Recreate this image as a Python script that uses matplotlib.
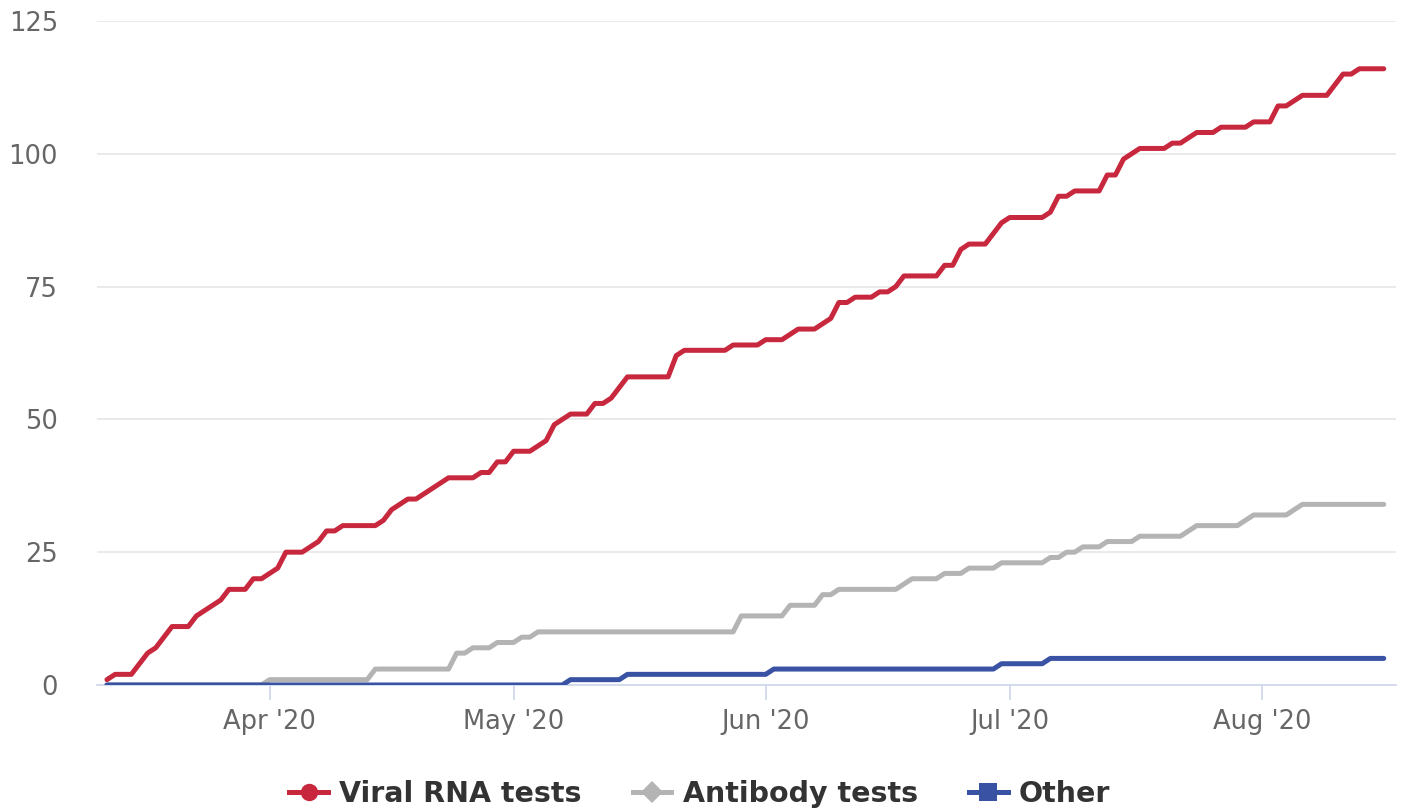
import matplotlib
matplotlib.use("Agg")
import matplotlib.pyplot as plt
import matplotlib.dates as mdates
from matplotlib.lines import Line2D
import pandas as pd

# Cumulative authorizations per day, 12 Mar 2020 - 16 Aug 2020
start_date = "2020-03-12"
end_date = "2020-08-16"

viral_rna = [
    1, 2, 2, 2, 4, 6, 7, 9, 11, 11, 11, 13, 14, 15, 16, 18, 18, 18, 20, 20,
    21, 22, 25, 25, 25, 26, 27, 29, 29, 30, 30, 30, 30, 30, 31, 33, 34, 35, 35, 36,
    37, 38, 39, 39, 39, 39, 40, 40, 42, 42, 44, 44, 44, 45, 46, 49, 50, 51, 51, 51,
    53, 53, 54, 56, 58, 58, 58, 58, 58, 58, 62, 63, 63, 63, 63, 63, 63, 64, 64, 64,
    64, 65, 65, 65, 66, 67, 67, 67, 68, 69, 72, 72, 73, 73, 73, 74, 74, 75, 77, 77,
    77, 77, 77, 79, 79, 82, 83, 83, 83, 85, 87, 88, 88, 88, 88, 88, 89, 92, 92, 93,
    93, 93, 93, 96, 96, 99, 100, 101, 101, 101, 101, 102, 102, 103, 104, 104, 104, 105, 105, 105,
    105, 106, 106, 106, 109, 109, 110, 111, 111, 111, 111, 113, 115, 115, 116, 116, 116, 116,
]

antibody = [
    0, 0, 0, 0, 0, 0, 0, 0, 0, 0, 0, 0, 0, 0, 0, 0, 0, 0, 0, 0,
    1, 1, 1, 1, 1, 1, 1, 1, 1, 1, 1, 1, 1, 3, 3, 3, 3, 3, 3, 3,
    3, 3, 3, 6, 6, 7, 7, 7, 8, 8, 8, 9, 9, 10, 10, 10, 10, 10, 10, 10,
    10, 10, 10, 10, 10, 10, 10, 10, 10, 10, 10, 10, 10, 10, 10, 10, 10, 10, 13, 13,
    13, 13, 13, 13, 15, 15, 15, 15, 17, 17, 18, 18, 18, 18, 18, 18, 18, 18, 19, 20,
    20, 20, 20, 21, 21, 21, 22, 22, 22, 22, 23, 23, 23, 23, 23, 23, 24, 24, 25, 25,
    26, 26, 26, 27, 27, 27, 27, 28, 28, 28, 28, 28, 28, 29, 30, 30, 30, 30, 30, 30,
    31, 32, 32, 32, 32, 32, 33, 34, 34, 34, 34, 34, 34, 34, 34, 34, 34, 34,
]

other = [
    0, 0, 0, 0, 0, 0, 0, 0, 0, 0, 0, 0, 0, 0, 0, 0, 0, 0, 0, 0,
    0, 0, 0, 0, 0, 0, 0, 0, 0, 0, 0, 0, 0, 0, 0, 0, 0, 0, 0, 0,
    0, 0, 0, 0, 0, 0, 0, 0, 0, 0, 0, 0, 0, 0, 0, 0, 0, 1, 1, 1,
    1, 1, 1, 1, 2, 2, 2, 2, 2, 2, 2, 2, 2, 2, 2, 2, 2, 2, 2, 2,
    2, 2, 3, 3, 3, 3, 3, 3, 3, 3, 3, 3, 3, 3, 3, 3, 3, 3, 3, 3,
    3, 3, 3, 3, 3, 3, 3, 3, 3, 3, 4, 4, 4, 4, 4, 4, 5, 5, 5, 5,
    5, 5, 5, 5, 5, 5, 5, 5, 5, 5, 5, 5, 5, 5, 5, 5, 5, 5, 5, 5,
    5, 5, 5, 5, 5, 5, 5, 5, 5, 5, 5, 5, 5, 5, 5, 5, 5, 5,
]

series_names = ["Viral RNA tests", "Antibody tests", "Other"]
series_colors = ["#c8283d", "#b4b4b4", "#3a52a3"]
series_markers = ["o", "D", "s"]
y_ticks = [0, 25, 50, 75, 100, 125]

dates = pd.date_range(start_date, end_date, freq="D")

fig = plt.figure(figsize=(14.01, 8.09), dpi=100)
ax = fig.add_axes([0.0692, 0.1533, 0.9272, 0.8208])

for vals, color in zip([viral_rna, antibody, other], series_colors):
    ax.plot(dates, vals, color=color, lw=3.6, solid_joinstyle="round",
            solid_capstyle="round", zorder=3)

day = pd.Timedelta(days=1)
ax.set_xlim(dates[0] - 1.23 * day, dates[-1] + 1.5 * day)
ax.set_ylim(0, 125)
ax.set_yticks(y_ticks)

ax.grid(axis="y", color="#e6e6e6", lw=1.2, zorder=0)
ax.grid(axis="x", visible=False)
for side in ["left", "right", "top"]:
    ax.spines[side].set_visible(False)
ax.spines["bottom"].set_color("#ccd6eb")
ax.spines["bottom"].set_linewidth(1.2)
ax.spines["bottom"].set_zorder(2)

ax.xaxis.set_major_locator(mdates.MonthLocator())
ax.xaxis.set_major_formatter(mdates.DateFormatter("%b '%y"))
ax.tick_params(axis="x", colors="#ccd6eb", length=11, width=1.2,
               labelcolor="#666666", labelsize=18.5, pad=6)
ax.tick_params(axis="y", length=0, labelcolor="#666666", labelsize=18.5, pad=28)
for lbl in ax.get_yticklabels():
    lbl.set_horizontalalignment("right")

handles = [Line2D([0], [0], color=c, lw=3.6, marker=m,
                  markersize=(11 if m == "D" else 12.5), markeredgewidth=0)
           for c, m in zip(series_colors, series_markers)]
leg = fig.legend(handles, series_names, loc="center", ncol=3,
                 bbox_to_anchor=(0.4996, 0.019), frameon=False,
                 handlelength=1.35, handletextpad=0.4, columnspacing=1.8,
                 prop={"weight": "bold", "size": 20.5})
for t in leg.get_texts():
    t.set_color("#333333")

fig.savefig("out.png", dpi=100)
